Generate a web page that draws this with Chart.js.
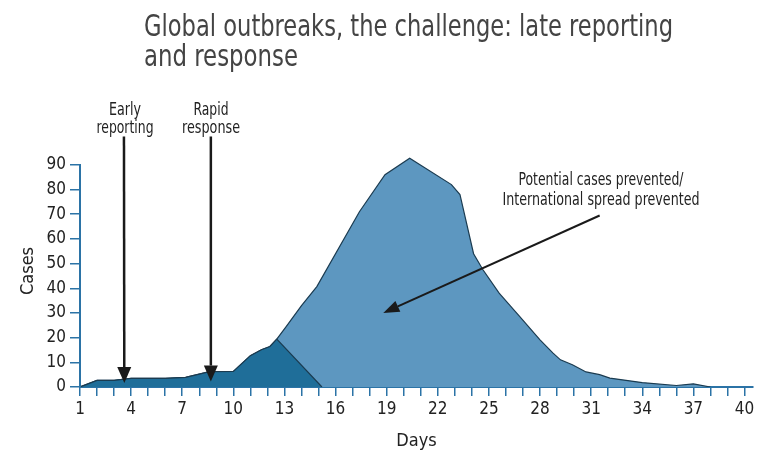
<!DOCTYPE html>
<html>
<head>
<meta charset="utf-8">
<script src="https://cdn.jsdelivr.net/npm/chart.js@4.4.1/dist/chart.umd.min.js"></script>
<style>
  body { margin: 0; background: #fff; }
</style>
</head>
<body>
<canvas id="outbreak" width="763" height="456"></canvas>
<script>
// potential outbreak (no early response) - outline vertices
var potentialDays  = [1, 2, 3, 4, 6, 7.2, 8, 8.6, 10, 11, 11.65, 12.15, 12.55, 13.1, 14.0, 14.9, 17.4, 18.9, 20.35, 22.8, 23.3, 24.1, 24.65, 25.6, 26.8, 28, 28.75, 29.2, 29.9, 30.7, 31.5, 32.1, 34, 36, 37, 38];
var potentialCases = [0, 2.7, 2.7, 3.5, 3.5, 3.9, 5.2, 6.2, 6.3, 12.7, 15.1, 16.4, 19.4, 24.5, 33, 40.7, 71, 86, 92.7, 82, 78, 54, 47.5, 38, 28.6, 19.1, 13.8, 11, 9, 6.1, 5, 3.6, 1.8, 0.6, 1.3, 0];

// outbreak contained by early reporting / rapid response
var containedDays  = [1, 2, 3, 4, 6, 7.2, 8, 8.6, 10, 11, 11.65, 12.15, 12.55, 15.2];
var containedCases = [0, 2.7, 2.7, 3.5, 3.5, 3.9, 5.2, 6.2, 6.3, 12.7, 15.1, 16.4, 19.4, 0];

var yTicks = [0, 10, 20, 30, 40, 50, 60, 70, 80, 90];
var xLabelDays = [1, 4, 7, 10, 13, 16, 19, 22, 25, 28, 31, 34, 37, 40];

var titleLines = ['Global outbreaks, the challenge: late reporting', 'and response'];

// arrows: [day, cases] at start and tip
var earlyArrow = { from: [3.58, 101.5], to: [3.6, 1.6], text: ['Early', 'reporting'] };
var rapidArrow = { from: [8.68, 101.5], to: [8.68, 2.2], text: ['Rapid', 'response'] };
var preventedArrow = { from: [31.5, 69.5], to: [18.8, 30], text: ['Potential cases prevented/', 'International spread prevented'] };

function toPoints(xs, ys) {
  var pts = [];
  for (var i = 0; i < xs.length; i++) {
    pts.push({ x: xs[i], y: ys[i] });
  }
  return pts;
}

var narrow = "'Liberation Sans Narrow', 'DejaVu Sans Condensed', 'Arial Narrow', sans-serif";
var axisBlue = '#2b73a6';
Chart.defaults.font.family = narrow;
Chart.defaults.color = '#222';

function drawArrow(ctx, x1, y1, x2, y2, headLen, headW) {
  var ang = Math.atan2(y2 - y1, x2 - x1);
  var bx = x2 - headLen * Math.cos(ang);
  var by = y2 - headLen * Math.sin(ang);
  ctx.beginPath();
  ctx.moveTo(x1, y1);
  ctx.lineTo(bx, by);
  ctx.stroke();
  ctx.beginPath();
  ctx.moveTo(x2, y2);
  ctx.lineTo(bx + headW / 2 * Math.sin(ang), by - headW / 2 * Math.cos(ang));
  ctx.lineTo(bx - headW / 2 * Math.sin(ang), by + headW / 2 * Math.cos(ang));
  ctx.closePath();
  ctx.fill();
}

var annotations = {
  id: 'annotations',
  afterDatasetsDraw: function (chart) {
    var ctx = chart.ctx;
    var xs = chart.scales.x, ys = chart.scales.y;
    ctx.save();

    // y axis line, only up to 90
    ctx.strokeStyle = axisBlue;
    ctx.lineWidth = 2;
    ctx.beginPath();
    ctx.moveTo(xs.left, ys.getPixelForValue(0) + 1);
    ctx.lineTo(xs.left, ys.getPixelForValue(90) - 0.75);
    ctx.stroke();

    // title
    ctx.fillStyle = '#444';
    ctx.font = '31px ' + narrow;
    ctx.textAlign = 'left';
    ctx.textBaseline = 'alphabetic';
    ctx.fillText(titleLines[0], 144, 36, 529);
    ctx.fillText(titleLines[1], 144, 66, 154);

    ctx.strokeStyle = '#1a1a1a';
    ctx.fillStyle = '#1a1a1a';
    ctx.lineWidth = 2.5;
    [earlyArrow, rapidArrow].forEach(function (a) {
      var x1 = xs.getPixelForValue(a.from[0]), y1 = ys.getPixelForValue(a.from[1]);
      var x2 = xs.getPixelForValue(a.to[0]), y2 = ys.getPixelForValue(a.to[1]);
      drawArrow(ctx, x1, y1, x2, y2, 16, 14);
    });
    ctx.lineWidth = 2;
    var p = preventedArrow;
    drawArrow(ctx, xs.getPixelForValue(p.from[0]), ys.getPixelForValue(p.from[1]),
      xs.getPixelForValue(p.to[0]), ys.getPixelForValue(p.to[1]), 16, 12);

    // labels
    ctx.fillStyle = '#222';
    ctx.font = '17px ' + narrow;
    ctx.textAlign = 'center';
    ctx.textBaseline = 'alphabetic';
    ctx.fillText(earlyArrow.text[0], 125, 115, 32);
    ctx.fillText(earlyArrow.text[1], 125, 133, 57);
    ctx.fillText(rapidArrow.text[0], 211, 115, 35);
    ctx.fillText(rapidArrow.text[1], 211, 133, 58);
    ctx.font = '18px ' + narrow;
    ctx.fillText(p.text[0], 601, 185, 165);
    ctx.fillText(p.text[1], 601, 205, 197);
    ctx.restore();
  }
};

const configOutbreak = {
  type: 'line',
  data: {
    datasets: [{
      label: 'Contained',
      data: toPoints(containedDays, containedCases),
      backgroundColor: '#1f6e99',
      borderColor: '#1b3b50',
      borderWidth: 1.2,
      fill: 'origin',
      pointRadius: 0,
      tension: 0,
      order: 0
    },
    {
      label: 'Potential',
      data: toPoints(potentialDays, potentialCases),
      backgroundColor: '#5d97c0',
      borderColor: '#1b3b50',
      borderWidth: 1.2,
      fill: 'origin',
      pointRadius: 0,
      tension: 0,
      order: 1
    }]
  },
  options: {
    responsive: false,
    animation: false,
    layout: { padding: { left: 18, top: 155, right: 10, bottom: 4 } },
    plugins: {
      legend: { display: false },
      tooltip: { enabled: false }
    },
    scales: {
      x: {
        type: 'linear',
        min: 1,
        max: 40.5,
        z: 1,
        border: { color: axisBlue, width: 2 },
        grid: { drawOnChartArea: false, drawTicks: true, tickLength: 9, color: axisBlue, lineWidth: 1.5 },
        afterBuildTicks: function (scale) {
          var t = [];
          for (var d = 1; d <= 40; d++) t.push({ value: d });
          scale.ticks = t;
        },
        afterFit: function (scale) { scale.height = 65; },
        ticks: {
          autoSkip: false,
          maxRotation: 0,
          padding: 3,
          font: { size: 17 },
          callback: function (v) { return xLabelDays.indexOf(v) >= 0 ? String(v) : ''; }
        },
        title: { display: true, text: 'Days', font: { size: 18 }, padding: 0 }
      },
      y: {
        min: 0,
        max: 94,
        z: 1,
        border: { display: false },
        grid: { drawOnChartArea: false, drawTicks: true, tickLength: 10, color: axisBlue, lineWidth: 1.5 },
        afterBuildTicks: function (scale) {
          scale.ticks = yTicks.map(function (v) { return { value: v }; });
        },
        afterFit: function (scale) { scale.width = 62; },
        ticks: { padding: 4, font: { size: 17 } },
        title: { display: true, text: 'Cases', font: { size: 18 }, padding: 0 }
      }
    }
  },
  plugins: [annotations]
};

const outbreakChart = new Chart(document.getElementById('outbreak'), configOutbreak);
</script>
</body>
</html>
